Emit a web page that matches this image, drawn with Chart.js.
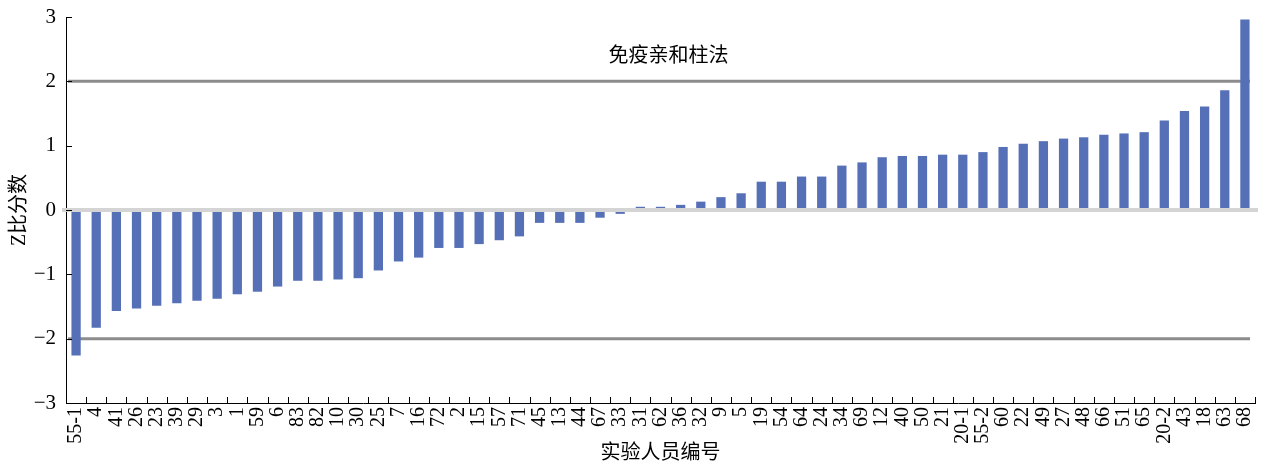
<!DOCTYPE html>
<html>
<head>
<meta charset="utf-8">
<script src="https://cdn.jsdelivr.net/npm/chart.js@4.4.1/dist/chart.umd.min.js"></script>
<style>
    html, body { margin: 0; padding: 0; background: #fff; }
    #wrap { width: 1262px; height: 466px; }
</style>
</head>
<body>
<div id="wrap"><canvas id="zChart"></canvas></div>
<script>
// Subject ids (x axis), sorted by z score
const subjects = ['55-1', '4', '41', '26', '23', '39', '29', '3', '1', '59', '6', '83', '82', '10', '30',
    '25', '7', '16', '72', '2', '15', '57', '71', '45', '13', '44', '67', '33', '31', '62', '36', '32',
    '9', '5', '19', '54', '64', '24', '34', '69', '12', '40', '50', '21', '20-1', '55-2', '60', '22',
    '49', '27', '48', '66', '51', '65', '20-2', '43', '18', '63', '68'];

const zScores = [-2.26, -1.83, -1.57, -1.53, -1.49, -1.45, -1.41, -1.38, -1.31, -1.27, -1.19, -1.10, -1.10, -1.08, -1.06,
    -0.94, -0.80, -0.74, -0.59, -0.59, -0.53, -0.47, -0.41, -0.20, -0.20, -0.20, -0.12, -0.06, 0.05, 0.05, 0.08, 0.13,
    0.20, 0.26, 0.44, 0.44, 0.52, 0.52, 0.69, 0.74, 0.82, 0.84, 0.84, 0.86, 0.86, 0.90, 0.98, 1.03,
    1.07, 1.11, 1.13, 1.17, 1.19, 1.21, 1.39, 1.54, 1.61, 1.86, 2.96];

const limitLines = [2, -2];
const yMin = -3;
const yMax = 3;
const methodName = '免疫亲和柱法';
const methodLabelY = 2.38;

const serif = "'Liberation Serif', 'Noto Sans CJK SC', serif";

// Reference lines, zero line, inward ticks and the method label
const decorPlugin = {
    id: 'decor',
    beforeDatasetsDraw(chart) {
        const { ctx, chartArea, scales: { y } } = chart;
        ctx.save();
        ctx.strokeStyle = '#8c8c8c';
        ctx.lineWidth = 3;
        limitLines.forEach(v => {
            const py = y.getPixelForValue(v);
            ctx.beginPath();
            ctx.moveTo(chartArea.left + 2, py);
            ctx.lineTo(chartArea.right - 5, py);
            ctx.stroke();
        });
        ctx.restore();
    },
    afterDatasetsDraw(chart) {
        const { ctx, chartArea, scales: { x, y } } = chart;
        ctx.save();
        // zero line
        const y0 = y.getPixelForValue(0);
        ctx.strokeStyle = '#d4d4d4';
        ctx.lineWidth = 4;
        ctx.beginPath();
        ctx.moveTo(chartArea.left - 4, y0);
        ctx.lineTo(chartArea.right + 3, y0);
        ctx.stroke();

        // ticks pointing into the plot
        ctx.strokeStyle = '#000';
        ctx.lineWidth = 1;
        for (let v = yMin; v <= yMax; v++) {
            const py = Math.round(y.getPixelForValue(v)) + 0.5;
            ctx.beginPath();
            ctx.moveTo(chartArea.left, py);
            ctx.lineTo(chartArea.left + 6, py);
            ctx.stroke();
        }
        const step = x.getPixelForValue(1) - x.getPixelForValue(0);
        for (let i = 0; i <= subjects.length; i++) {
            const px = Math.round(x.getPixelForValue(i) - step / 2) + 0.5;
            ctx.beginPath();
            ctx.moveTo(px, chartArea.bottom);
            ctx.lineTo(px, chartArea.bottom - 6);
            ctx.stroke();
        }

        // method label
        ctx.fillStyle = '#000';
        ctx.font = "20px " + serif;
        ctx.textAlign = 'center';
        ctx.textBaseline = 'middle';
        ctx.fillText(methodName, (chartArea.left + chartArea.right) / 2 + 8, y.getPixelForValue(methodLabelY));
        ctx.restore();
    }
};

const ctx = document.getElementById('zChart').getContext('2d');
const zChart = new Chart(ctx, {
    type: 'bar',
    data: {
        labels: subjects,
        datasets: [{
            data: zScores,
            backgroundColor: '#5670b8',
            borderWidth: 0,
            barPercentage: 0.46,
            categoryPercentage: 1.0
        }]
    },
    options: {
        responsive: true,
        maintainAspectRatio: false,
        animation: false,
        layout: { padding: { top: 17, right: 7, left: 0, bottom: 0 } },
        plugins: {
            legend: { display: false },
            tooltip: { enabled: false }
        },
        scales: {
            x: {
                grid: { drawOnChartArea: false, drawTicks: false },
                border: { color: '#000', width: 1 },
                ticks: {
                    autoSkip: false,
                    minRotation: 90,
                    maxRotation: 90,
                    padding: 4,
                    color: '#000',
                    font: { family: serif, size: 20 }
                },
                title: {
                    display: true,
                    text: '实验人员编号',
                    color: '#000',
                    padding: { top: 0, bottom: 0 },
                    font: { family: serif, size: 20, lineHeight: 1.2 }
                },
                afterFit: scale => {
                    scale.height = 63;
                    scale.paddingLeft = 0;
                    scale.paddingRight = 0;
                }
            },
            y: {
                min: yMin,
                max: yMax,
                grid: { drawOnChartArea: false, drawTicks: false },
                border: { color: '#000', width: 1 },
                ticks: {
                    stepSize: 1,
                    padding: 10,
                    color: '#000',
                    font: { family: serif, size: 21 },
                    callback: v => (v < 0 ? '\u2212' + Math.abs(v) : String(v))
                },
                title: {
                    display: true,
                    text: 'Z比分数',
                    color: '#000',
                    padding: { top: 8, bottom: 0 },
                    font: { family: serif, size: 20, lineHeight: 1.2 }
                },
                afterFit: scale => {
                    scale.width = 66;
                    scale.paddingTop = 0;
                    scale.paddingBottom = 0;
                }
            }
        }
    },
    plugins: [decorPlugin]
});
</script>
</body>
</html>
